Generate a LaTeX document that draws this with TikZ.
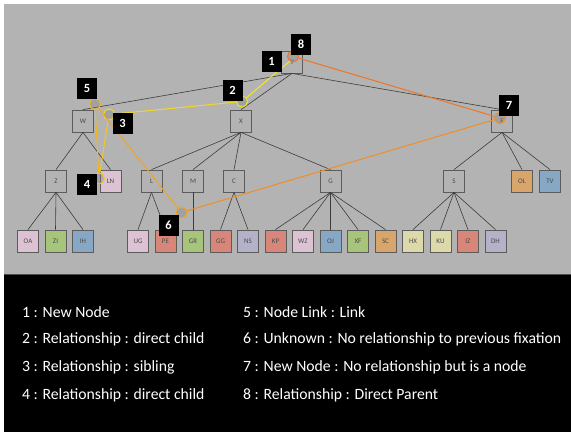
\documentclass[tikz,border=0pt]{standalone}
\usepackage{fontspec}
\setmainfont{Carlito}
\usepackage{xcolor}
\usetikzlibrary{positioning}

\definecolor{bggray}{HTML}{B3B3B3}
\definecolor{boxgray}{HTML}{5C5C5C}
\definecolor{edgegray}{HTML}{3C3C3C}
\definecolor{txtgray}{HTML}{4A4A4A}
\definecolor{lpink}{HTML}{DCC2D2}
\definecolor{lgreen}{HTML}{A6C47A}
\definecolor{lblue}{HTML}{86A8C4}
\definecolor{salmon}{HTML}{D8867A}
\definecolor{lav}{HTML}{B4B2C8}
\definecolor{lorange}{HTML}{D8A66A}
\definecolor{lyellow}{HTML}{DCDAAA}
\definecolor{fixA}{HTML}{F2E62A}
\definecolor{fixB}{HTML}{F2D826}
\definecolor{fixC}{HTML}{F2C824}
\definecolor{fixD}{HTML}{F2B822}
\definecolor{fixE}{HTML}{F0A424}
\definecolor{fixF}{HTML}{F08E24}
\definecolor{fixG}{HTML}{F07426}

\begin{document}
\begin{tikzpicture}[x=1pt,y=-1pt,
    tnode/.style={draw=boxgray,line width=0.8pt,minimum width=21pt,minimum height=22pt,inner sep=0pt,text=txtgray,font=\fontsize{7}{7}\selectfont},
    edge/.style={draw=edgegray,line width=0.6pt},
    fix/.style={circle,line width=1pt,minimum size=11pt,inner sep=0pt,fill=gray,fill opacity=0.35,draw opacity=1},
    gaze/.style={line width=1pt},
    num/.style={fill=black,text=white,minimum width=20pt,minimum height=21pt,inner sep=0pt,font=\bfseries\fontsize{12.5}{12.5}\selectfont},
    legend/.style={anchor=west,text=white,inner sep=0pt,font=\fontsize{15.7}{15.7}\selectfont}]
    \useasboundingbox (0,0) rectangle (571,432);
    \fill[white] (0,0) rectangle (571,432);
    \fill[bggray] (4,4) rectangle (571,275);
    \fill[black] (4,275) rectangle (571,432);
    \draw[gray!60!black,line width=1.2pt] (4,274.4) -- (571,274.4);

    % tree
    \node[tnode] (Y) at (292,62) {Y};
    \node[tnode] (W) at (83,121) {W};
    \node[tnode] (X) at (241,121) {X};
    \node[tnode] (F) at (502,121) {F};
    \node[tnode] (Z) at (56,181) {Z};
    \node[tnode,fill=lpink] (LN) at (110.5,181) {LN};
    \node[tnode] (L) at (151.5,181) {L};
    \node[tnode] (M) at (193,181) {M};
    \node[tnode] (C) at (234,181) {C};
    \node[tnode] (G) at (330.5,181) {G};
    \node[tnode] (S) at (454,181) {S};
    \node[tnode,fill=lorange] (OL) at (522,181) {OL};
    \node[tnode,fill=lblue] (TV) at (550,181) {TV};
    \node[tnode,fill=lpink] (OA) at (28,241) {OA};
    \node[tnode,fill=lgreen] (ZI) at (55.5,241) {ZI};
    \node[tnode,fill=lblue] (IH) at (83,241) {IH};
    \node[tnode,fill=lpink] (UG) at (138,241) {UG};
    \node[tnode,fill=salmon] (PE) at (165.5,241) {PE};
    \node[tnode,fill=lgreen] (GR) at (193,241) {GR};
    \node[tnode,fill=salmon] (GG) at (220.5,241) {GG};
    \node[tnode,fill=lav] (NS) at (248,241) {NS};
    \node[tnode,fill=salmon] (KP) at (275.5,241) {KP};
    \node[tnode,fill=lpink] (WZ) at (303,241) {WZ};
    \node[tnode,fill=lblue] (OJ) at (330.5,241) {OJ};
    \node[tnode,fill=lgreen] (XF) at (358,241) {XF};
    \node[tnode,fill=lorange] (SC) at (385.5,241) {SC};
    \node[tnode,fill=lyellow] (HX) at (413,241) {HX};
    \node[tnode,fill=lyellow] (KU) at (440.5,241) {KU};
    \node[tnode,fill=salmon] (IZ) at (468,241) {IZ};
    \node[tnode,fill=lav] (DH) at (495.5,241) {DH};

    \draw[edge] (Y.south) -- (W.north);
    \draw[edge] (Y.south) -- (X.north);
    \draw[edge] (Y.south) -- (F.north);
    \draw[edge] (W.south) -- (Z.north);
    \draw[edge] (W.south) -- (LN.north);
    \draw[edge] (X.south) -- (L.north);
    \draw[edge] (X.south) -- (M.north);
    \draw[edge] (X.south) -- (C.north);
    \draw[edge] (X.south) -- (G.north);
    \draw[edge] (F.south) -- (S.north);
    \draw[edge] (F.south) -- (OL.north);
    \draw[edge] (F.south) -- (TV.north);
    \draw[edge] (Z.south) -- (OA.north);
    \draw[edge] (Z.south) -- (ZI.north);
    \draw[edge] (Z.south) -- (IH.north);
    \draw[edge] (L.south) -- (UG.north);
    \draw[edge] (L.south) -- (PE.north);
    \draw[edge] (M.south) -- (GR.north);
    \draw[edge] (C.south) -- (GG.north);
    \draw[edge] (C.south) -- (NS.north);
    \draw[edge] (G.south) -- (KP.north);
    \draw[edge] (G.south) -- (WZ.north);
    \draw[edge] (G.south) -- (OJ.north);
    \draw[edge] (G.south) -- (XF.north);
    \draw[edge] (G.south) -- (SC.north);
    \draw[edge] (S.south) -- (HX.north);
    \draw[edge] (S.south) -- (KU.north);
    \draw[edge] (S.south) -- (IZ.north);
    \draw[edge] (S.south) -- (DH.north);

    % fixations
    \coordinate (f1) at (290,61);
    \node[fix,draw=fixA] (f2) at (242,101.5) {};
    \node[fix,draw=fixB] (f3) at (109,114.5) {};
    \node[fix,draw=fixC] (f4) at (99,178.5) {};
    \node[fix,draw=fixD] (f5) at (95,104) {};
    \node[fix,draw=fixE] (f6) at (181.5,212.5) {};
    \node[fix,draw=fixF] (f7) at (500,118) {};
    \node[fix,draw=fixG] (f8) at (293,56.5) {};
    \draw[gaze,fixA] (f1) -- (f2);
    \draw[gaze,fixB] (f2) -- (f3);
    \draw[gaze,fixC] (f3) -- (f4);
    \draw[gaze,fixD] (f4) -- (f5);
    \draw[gaze,fixE] (f5) -- (f6);
    \draw[gaze,fixF] (f6) -- (f7);
    \draw[gaze,fixG] (f7) -- (f8);

    \node[num] (n1) at (271.5,61) {1};
    \node[num] (n2) at (232.5,90) {2};
    \node[num] (n3) at (122.5,123) {3};
    \node[num] (n4) at (87,184) {4};
    \node[num] (n5) at (87,88.5) {5};
    \node[num] (n6) at (168.5,225) {6};
    \node[num] (n7) at (509,105.5) {7};
    \node[num] (n8) at (301,44) {8};

    % legend
    \node[legend] (l1) at (22,312) {1 : New Node};
    \node[legend] (l2) at (22,339.5) {2 : Relationship : direct child};
    \node[legend] (l3) at (22,367) {3 : Relationship : sibling};
    \node[legend] (l4) at (22,395) {4 : Relationship : direct child};
    \node[legend] (l5) at (243,312) {5 : Node Link : Link};
    \node[legend] (l6) at (243,339.5) {6 : Unknown : No relationship to previous fixation};
    \node[legend] (l7) at (243,367) {7 : New Node : No relationship but is a node};
    \node[legend] (l8) at (243,395) {8 : Relationship : Direct Parent};
\end{tikzpicture}
\end{document}
